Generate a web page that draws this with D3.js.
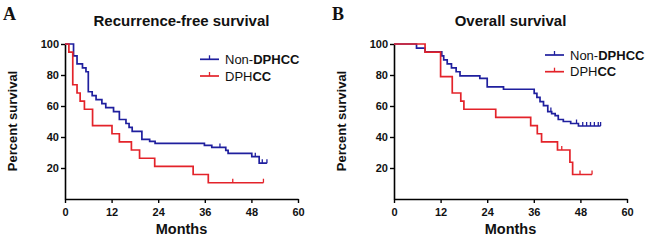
<!DOCTYPE html>
<html>
<head>
<meta charset="utf-8">
<script src="https://cdn.jsdelivr.net/npm/d3@7"></script>
<style>
  body { margin: 0; background: #fff; }
  svg { display: block; font-family: Arial, "Liberation Sans", sans-serif; }
</style>
</head>
<body>
<svg id="chart" width="646" height="240"></svg>
<script>
// Kaplan-Meier steps: [month, percent surviving]
const rfsNonDphcc = [[0,100],[2.2,92.3],[3.1,87.2],[4.5,84.6],[5.4,82.1],[6,69.2],[7,66.7],[8,64.1],[9.5,61.5],[10.5,59],
  [12.5,56.4],[14,51.3],[15.7,48.7],[16.5,46.2],[17.3,43.6],[19.8,38.5],[21.8,37.2],[23.2,35.9],[35.9,34.6],[37.8,33.3],
  [41.4,31.4],[42,29.5],[48.1,27.3],[50,23.1]];
const rfsNonCensor = [39.9, 49, 50.8, 52];
const rfsDphcc = [[0,100],[1,94.7],[2,73.7],[3.1,68.4],[3.9,63.2],[5,57.9],[7.1,47.4],[12.1,42.1],[14,36.8],[17.1,31.6],
  [19.2,26.3],[23.1,21.1],[33,15.8],[36.9,10.5]];
const rfsDphccCensor = [43.2, 51.1];

const osNonDphcc = [[0,100],[5.8,97.4],[8,94.9],[12.3,92.3],[12.8,89.7],[13.7,87.2],[14.8,84.6],[16,82.1],[17,79.5],
  [22.1,77.8],[24,72.4],[28.2,70.8],[36.1,68.2],[36.8,65.6],[37.6,62.8],[38.5,60.3],[39.6,56.4],[40.6,55.1],[41.5,53.8],
  [42.3,51.3],[43.6,50],[45.5,48.7],[47.5,47.1]];
const osNonCensor = [40.4, 47, 48.6, 49.6, 50.6, 51.6, 52.6, 53.2];
const osDphcc = [[0,100],[8,94.7],[12,78.9],[15,68.4],[17.2,63.2],[18,57.9],[26.2,52.6],[35.2,47.4],[36.9,42.1],[38,36.8],
  [42.1,31.6],[45.3,23.7],[46,15.8]];
const osDphccCensor = [43.2, 47.9, 51];

const monthTicks = [0, 12, 24, 36, 48, 60];
const percentTicks = [20, 40, 60, 80, 100];

const BLUE = '#1f1f9e';
const RED = '#e3232a';

const svg = d3.select('#chart');

function survivalAt(steps, t) {
  let v = steps[0][1];
  steps.forEach(d => { if (d[0] <= t) v = d[1]; });
  return v;
}

function drawPanel(cfg) {
  const x = d3.scaleLinear().domain([0, 60]).range([cfg.left, cfg.left + 233]);
  const y = d3.scaleLinear().domain([0, 100]).range([199, 44]);

  const g = svg.append('g');

  // axes
  g.append('g')
    .attr('transform', 'translate(0,199)')
    .call(d3.axisBottom(x).tickValues(monthTicks).tickSize(4).tickSizeOuter(0).tickPadding(5))
    .call(a => a.select('.domain').attr('stroke-width', 1.6))
    .call(a => a.selectAll('line').attr('stroke-width', 1.4))
    .call(a => a.selectAll('text').attr('font-size', 11).attr('font-weight', 'bold').attr('fill', '#111')
      .attr('font-family', 'Arial, "Liberation Sans", sans-serif'));

  g.append('g')
    .attr('transform', `translate(${cfg.left},0)`)
    .call(d3.axisLeft(y).tickValues(percentTicks).tickSize(4).tickSizeOuter(0).tickPadding(2))
    .call(a => a.select('.domain').attr('stroke-width', 1.6))
    .call(a => a.selectAll('line').attr('stroke-width', 1.4))
    .call(a => a.selectAll('text').attr('font-size', 11).attr('font-weight', 'bold').attr('fill', '#111')
      .attr('font-family', 'Arial, "Liberation Sans", sans-serif'));

  // curves
  const line = d3.line().x(d => x(d[0])).y(d => y(d[1])).curve(d3.curveStepAfter);
  cfg.series.forEach(s => {
    const end = d3.max(s.censor);
    const pts = s.steps.concat([[end, s.steps[s.steps.length - 1][1]]]);
    g.append('path')
      .attr('d', line(pts))
      .attr('fill', 'none')
      .attr('stroke', s.color)
      .attr('stroke-width', 1.7);
    g.selectAll(null)
      .data(s.censor)
      .enter()
      .append('line')
      .attr('x1', d => x(d)).attr('x2', d => x(d))
      .attr('y1', d => y(survivalAt(s.steps, d)))
      .attr('y2', d => y(survivalAt(s.steps, d)) - 4)
      .attr('stroke', s.color)
      .attr('stroke-width', 1.3);
  });

  // titles
  g.append('text')
    .attr('x', cfg.left + 116.5).attr('y', 26)
    .attr('text-anchor', 'middle')
    .attr('font-size', 15).attr('font-weight', 'bold').attr('fill', '#111')
    .text(cfg.title);

  g.append('text')
    .attr('x', cfg.left + 116.5).attr('y', 234)
    .attr('text-anchor', 'middle')
    .attr('font-size', 14.5).attr('font-weight', 'bold').attr('fill', '#111')
    .text('Months');

  g.append('text')
    .attr('transform', `translate(${cfg.left - 48},121) rotate(-90)`)
    .attr('text-anchor', 'middle')
    .attr('font-size', 13).attr('font-weight', 'bold').attr('fill', '#111')
    .text('Percent survival');

  g.append('text')
    .attr('x', cfg.letterX).attr('y', 20)
    .attr('font-family', '"Liberation Serif", "Times New Roman", serif')
    .attr('font-size', 18).attr('font-weight', 'bold').attr('fill', '#111')
    .text(cfg.letter);

  // legend
  cfg.series.forEach((s, i) => {
    const ly = cfg.legendY + i * 16.7;
    g.append('line')
      .attr('x1', cfg.legendX).attr('x2', cfg.legendX + 19)
      .attr('y1', ly).attr('y2', ly)
      .attr('stroke', s.color).attr('stroke-width', 1.7);
    g.append('line')
      .attr('x1', cfg.legendX + 9.5).attr('x2', cfg.legendX + 9.5)
      .attr('y1', ly).attr('y2', ly - 4)
      .attr('stroke', s.color).attr('stroke-width', 1.3);
    const t = g.append('text')
      .attr('x', cfg.legendX + 25).attr('y', ly + 4.5)
      .attr('font-size', 13).attr('fill', '#111');
    s.label.forEach(part => {
      t.append('tspan').attr('font-weight', part[1] ? 'bold' : 'normal').text(part[0]);
    });
  });
}

drawPanel({
  left: 65, letter: 'A', letterX: 3, title: 'Recurrence-free survival',
  legendX: 200, legendY: 59.3,
  series: [
    { steps: rfsNonDphcc, censor: rfsNonCensor, color: BLUE, label: [['Non-', false], ['DPHCC', true]] },
    { steps: rfsDphcc, censor: rfsDphccCensor, color: RED, label: [['DPH', false], ['CC', true]] }
  ]
});

drawPanel({
  left: 394, letter: 'B', letterX: 332, title: 'Overall survival',
  legendX: 545, legendY: 55,
  series: [
    { steps: osNonDphcc, censor: osNonCensor, color: BLUE, label: [['Non-', false], ['DPHCC', true]] },
    { steps: osDphcc, censor: osDphccCensor, color: RED, label: [['DPH', false], ['CC', true]] }
  ]
});
</script>
</body>
</html>
